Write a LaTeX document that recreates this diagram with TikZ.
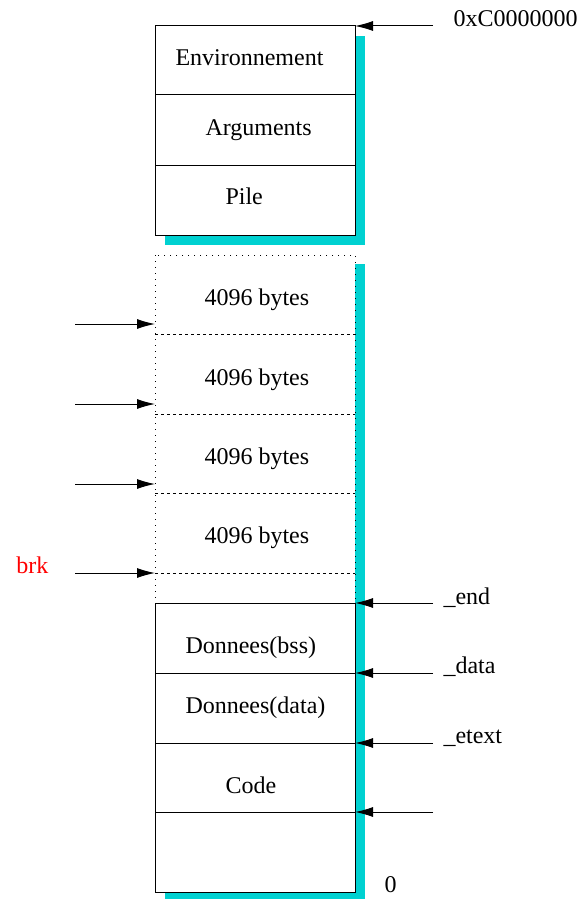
\documentclass[tikz,border=0pt]{standalone}
\usepackage{fontspec}
\setmainfont{Liberation Serif}
\usepackage{tikz}
\usetikzlibrary{arrows.meta}
\definecolor{shadowcyan}{RGB}{0,209,209}
\tikzset{
  memtext/.style={anchor=base west, inner sep=0pt},
  ptr/.style={-{Latex[length=9pt,width=5pt]}},
  pagebox/.style={dash pattern=on 0.6pt off 2.4pt},
  pagesep/.style={dash pattern=on 1.5pt off 1.5pt},
}

\begin{document}
\begin{tikzpicture}[x=0.5pt, y=-0.5pt, line width=0.5pt, font=\fontsize{12}{14}\selectfont]
		\useasboundingbox (0,0) rectangle (582,899);
		% Shadows
		\fill[shadowcyan] (165,36) rectangle (365,245);
		\fill[shadowcyan] (355,264) rectangle (365,901);
		\fill[shadowcyan] (165,892) rectangle (365,901);
		% Upper block
		\draw[fill=white] (155,26) rectangle (355,235);
		\draw (155,95) -- (355,95);
		\draw (155,165) -- (355,165);
		\node[memtext] at (175,66) (env) {Environnement};
		\node[memtext] at (205,135) (args) {Arguments};
		\node[memtext] at (225,204) (pile) {Pile};
		% Pages of the heap
		\draw[pagebox] (155,255) rectangle (355,603);
		\draw[pagesep] (155,334) -- (355,334);
		\draw[pagesep] (155,414) -- (355,414);
		\draw[pagesep] (155,493) -- (355,493);
		\draw[pagesep] (155,573) -- (355,573);
		\node[memtext] at (204,305) (page1) {4096 bytes};
		\node[memtext] at (204,385) (page2) {4096 bytes};
		\node[memtext] at (204,464) (page3) {4096 bytes};
		\node[memtext] at (204,543) (page4) {4096 bytes};
		% Lower block
		\draw[fill=white] (155,603) rectangle (355,892);
		\draw (155,673) -- (355,673);
		\draw (155,743) -- (355,743);
		\draw (155,812) -- (355,812);
		\node[memtext] at (185,653) (bss) {Donnees(bss)};
		\node[memtext] at (185,713) (data) {Donnees(data)};
		\node[memtext] at (225,793) (code) {Code};
		% Addresses
		\coordinate (top) at (355,26);
		\coordinate (topsrc) at (433,26);
		\coordinate (end) at (355,603);
		\coordinate (endsrc) at (433,603);
		\coordinate (datastart) at (355,673);
		\coordinate (datasrc) at (433,673);
		\coordinate (etext) at (355,743);
		\coordinate (etextsrc) at (433,743);
		\coordinate (codestart) at (355,812);
		\coordinate (codesrc) at (433,812);
		\draw[ptr] (topsrc) -- (top);
		\draw[ptr] (endsrc) -- (end);
		\draw[ptr] (datasrc) -- (datastart);
		\draw[ptr] (etextsrc) -- (etext);
		\draw[ptr] (codesrc) -- (codestart);
		\node[memtext] at (453,27) (lbltop) {0xC0000000};
		\node[memtext] at (443,604) (lblend) {\_end};
		\node[memtext] at (443,673) (lbldata) {\_data};
		\node[memtext] at (443,743) (lbletext) {\_etext};
		\node[memtext] at (384,892) (lblzero) {0};
		% Break pointers
		\coordinate (brk1) at (155,324);
		\coordinate (brk1src) at (75,324);
		\coordinate (brk2) at (155,404);
		\coordinate (brk2src) at (75,404);
		\coordinate (brk3) at (155,484);
		\coordinate (brk3src) at (75,484);
		\coordinate (brk4) at (155,573);
		\coordinate (brk4src) at (75,573);
		\draw[ptr] (brk1src) -- (brk1);
		\draw[ptr] (brk2src) -- (brk2);
		\draw[ptr] (brk3src) -- (brk3);
		\draw[ptr] (brk4src) -- (brk4);
		\node[memtext, text=red] at (16,573) (lblbrk) {brk};
	\end{tikzpicture}
\end{document}
